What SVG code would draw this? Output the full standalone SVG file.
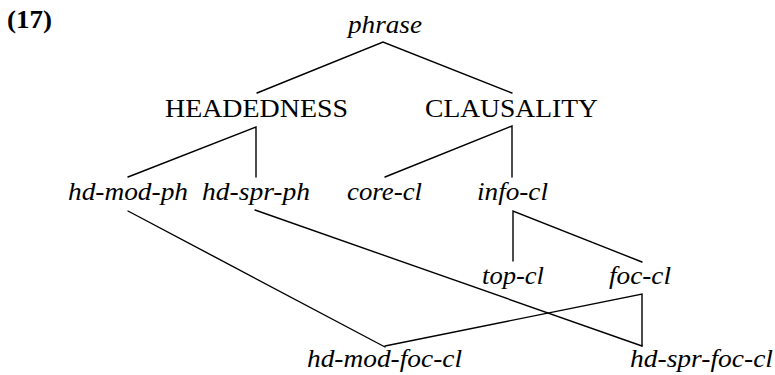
<svg xmlns="http://www.w3.org/2000/svg" width="775" height="375" viewBox="0 0 775 375">
<style>
.t{font-family:"Liberation Serif","DejaVu Serif",serif;font-size:26px;fill:#000}
.i{font-style:italic}
.b{font-weight:bold;font-size:25px}
.c line,.c polyline{stroke:#000;stroke-width:1.4;fill:none;stroke-linecap:round;stroke-linejoin:miter}
</style>
<rect width="775" height="375" fill="#fff"/>
<text class="t b" x="7" y="28" textLength="45" lengthAdjust="spacingAndGlyphs">(17)</text>
<g class="c" id="connectors">
<polyline points="257,93 383,42 512,93"/>
<polyline points="128,177 256,127 256,177"/>
<polyline points="385,177 512,126 512,177"/>
<line x1="128" y1="211" x2="385" y2="347"/>
<line x1="255" y1="210" x2="642" y2="346"/>
<polyline points="513,261 513,211 642,262"/>
<polyline points="385,346 642,294 642,346"/>
</g>
<g id="phrase"><text class="t i" x="348" y="33" textLength="74" lengthAdjust="spacingAndGlyphs">phrase</text></g>
<g id="headedness"><text class="t" x="165" y="117" textLength="183" lengthAdjust="spacingAndGlyphs">HEADEDNESS</text></g>
<g id="clausality"><text class="t" x="425" y="117" textLength="173" lengthAdjust="spacingAndGlyphs">CLAUSALITY</text></g>
<g id="hd-mod-ph"><text class="t i" x="68" y="200" textLength="120" lengthAdjust="spacingAndGlyphs">hd-mod-ph</text></g>
<g id="hd-spr-ph"><text class="t i" x="202" y="200" textLength="108" lengthAdjust="spacingAndGlyphs">hd-spr-ph</text></g>
<g id="core-cl"><text class="t i" x="347" y="200" textLength="75" lengthAdjust="spacingAndGlyphs">core-cl</text></g>
<g id="info-cl"><text class="t i" x="477" y="200" textLength="71" lengthAdjust="spacingAndGlyphs">info-cl</text></g>
<g id="top-cl"><text class="t i" x="482" y="284" textLength="62" lengthAdjust="spacingAndGlyphs">top-cl</text></g>
<g id="foc-cl"><text class="t i" x="609" y="284" textLength="62" lengthAdjust="spacingAndGlyphs">foc-cl</text></g>
<g id="hd-mod-foc-cl"><text class="t i" x="307" y="367" textLength="155" lengthAdjust="spacingAndGlyphs">hd-mod-foc-cl</text></g>
<g id="hd-spr-foc-cl"><text class="t i" x="630" y="367" textLength="143" lengthAdjust="spacingAndGlyphs">hd-spr-foc-cl</text></g>
</svg>
